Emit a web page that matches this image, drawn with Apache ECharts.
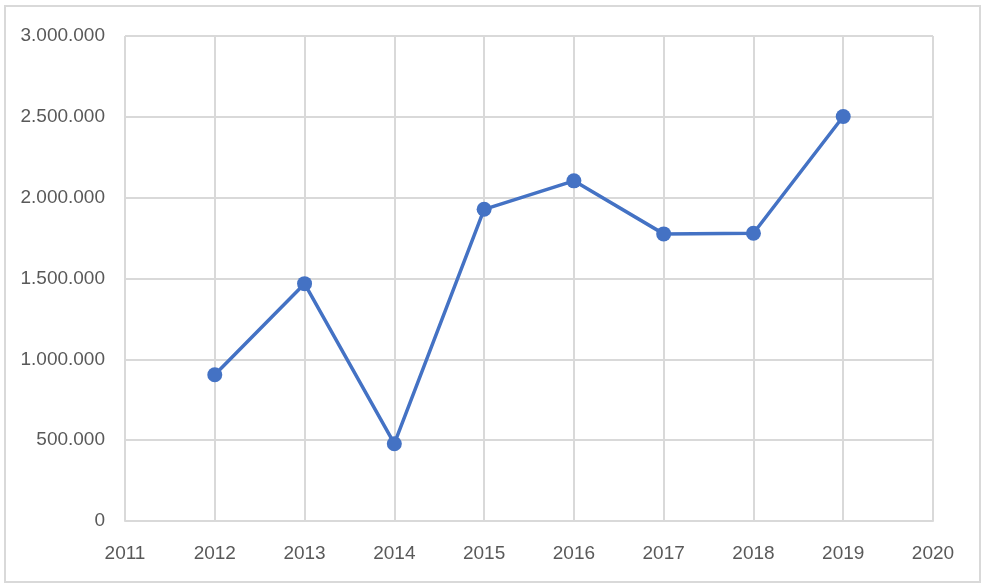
<!DOCTYPE html>
<html>
<head>
<meta charset="utf-8">
<script src="https://cdn.jsdelivr.net/npm/echarts@6/dist/echarts.min.js"></script>
<style>html,body{margin:0;padding:0;background:#fff}#c{width:984px;height:588px}</style>
</head>
<body>
<div id="c"></div>
<script>
var years = [2012, 2013, 2014, 2015, 2016, 2017, 2018, 2019];
var values = [905000, 1468000, 478000, 1928000, 2104000, 1776000, 1780000, 2502000];
var xTicks = [2011, 2020, 1];
var yTicks = [0, 3000000, 500000];

var chart = echarts.init(document.getElementById('c'), null, {renderer: 'canvas'});
var fontFam = '"Liberation Sans", Arial, sans-serif';
chart.setOption({
  animation: false,
  backgroundColor: '#ffffff',
  graphic: [{
    type: 'rect', shape: {x: 5, y: 6, width: 975, height: 576},
    style: {fill: 'none', stroke: '#d9d9d9', lineWidth: 2}, silent: true
  }],
  grid: {left: 125, right: 51, top: 36, bottom: 67, containLabel: false},
  xAxis: {
    type: 'value', min: xTicks[0], max: xTicks[1], interval: xTicks[2],
    axisLine: {show: true, lineStyle: {color: '#d9d9d9', width: 2}},
    axisTick: {show: false},
    splitLine: {show: true, lineStyle: {color: '#d9d9d9', width: 2}},
    axisLabel: {color: '#595959', fontSize: 19, fontFamily: fontFam, margin: 23,
      formatter: function (v) { return String(v); }}
  },
  yAxis: {
    type: 'value', min: yTicks[0], max: yTicks[1], interval: yTicks[2],
    axisLine: {show: false},
    axisTick: {show: false},
    splitLine: {show: true, lineStyle: {color: '#d9d9d9', width: 2}},
    axisLabel: {color: '#595959', fontSize: 19, fontFamily: fontFam, margin: 20,
      formatter: function (v) { return v.toString().replace(/\B(?=(\d{3})+(?!\d))/g, '.'); }}
  },
  series: [{
    type: 'line',
    data: years.map(function (y, i) { return [y, values[i]]; }),
    symbol: 'circle', symbolSize: 15,
    lineStyle: {color: '#4472C4', width: 3.5},
    itemStyle: {color: '#4472C4'}
  }]
});
</script>
</body>
</html>
